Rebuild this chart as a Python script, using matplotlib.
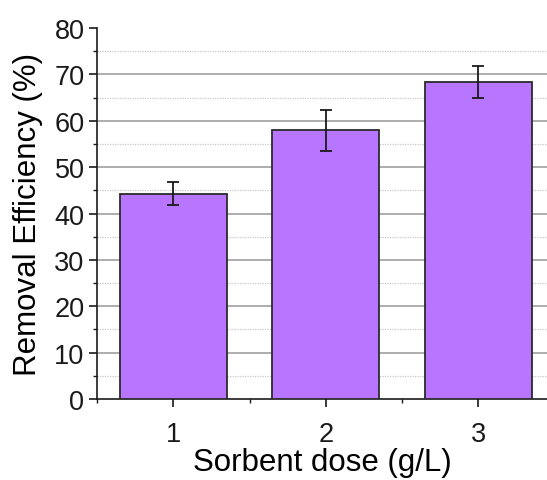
import matplotlib
matplotlib.use("Agg")
import matplotlib.pyplot as plt
import numpy as np
from matplotlib.ticker import MultipleLocator

doses = [1, 2, 3]
removal = [44.3, 57.9, 68.4]
removal_err = [2.5, 4.4, 3.5]

plt.rcParams['font.family'] = ['Liberation Sans', 'DejaVu Sans']

fig = plt.figure(figsize=(5.47, 4.81), dpi=100)
ax = fig.add_axes([0.1773, 0.1684, 0.8227, 0.7713])

ax.bar(doses, removal, width=0.7, color="#B875FF", edgecolor="#2b2b2b",
       linewidth=1.3, zorder=3)
ax.errorbar(doses, removal, yerr=removal_err, fmt="none", ecolor="#1a1a1a",
            elinewidth=1.3, capsize=4, capthick=1.3, zorder=4)

ax.set_xlim(0.5, 3.45)
ax.set_ylim(0, 80)
ax.set_xticks(doses)
ax.xaxis.set_minor_locator(MultipleLocator(0.5))
ax.yaxis.set_major_locator(MultipleLocator(10))
ax.yaxis.set_minor_locator(MultipleLocator(5))

# horizontal guide lines: solid every 10, dotted in between (none at the top)
for y in np.arange(10, 80, 10):
    ax.axhline(y, color="#a0a0a0", linewidth=1.2, zorder=0)
for y in np.arange(5, 80, 10):
    ax.axhline(y, color="#c8c8c8", linewidth=0.9, linestyle=(0, (1, 1)), zorder=0)

for side in ("top", "right"):
    ax.spines[side].set_visible(False)
for side in ("left", "bottom"):
    ax.spines[side].set_linewidth(1.2)
    ax.spines[side].set_color("#1a1a1a")

ax.tick_params(which="major", direction="out", length=6, width=1.2,
               labelsize=19.5, colors="#1a1a1a")
ax.tick_params(which="minor", direction="out", length=3, width=1.0,
               colors="#1a1a1a")
ax.tick_params(axis="y", which="major", pad=3)
ax.tick_params(axis="x", which="major", pad=10)

ax.set_xlabel("Sorbent dose (g/L)", fontsize=22.5, labelpad=0)
ax.set_ylabel("Removal Efficiency (%)", fontsize=22.5, labelpad=8)

fig.savefig("out.png", dpi=100)
